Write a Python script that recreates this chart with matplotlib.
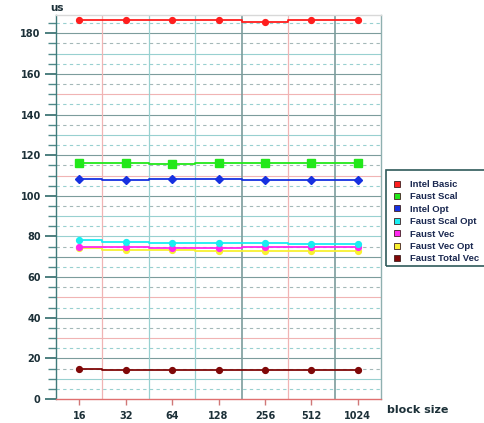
import matplotlib
matplotlib.use('Agg')
import matplotlib.pyplot as plt
from matplotlib.patches import Rectangle
from matplotlib.lines import Line2D

# данные
block_sizes = ['16', '32', '64', '128', '256', '512', '1024']
intel_basic = [186.5, 186.5, 186.5, 186.5, 185.8, 186.5, 186.5]
faust_scal = [116.4, 116.4, 115.9, 116.4, 116.1, 116.1, 116.1]
intel_opt = [108.5, 107.9, 108.5, 108.5, 107.7, 107.7, 107.7]
faust_scal_opt = [78.2, 77.5, 77.0, 77.0, 77.0, 76.5, 76.5]
faust_vec = [75.0, 75.0, 74.5, 74.5, 74.7, 74.7, 74.7]
faust_vec_opt = [74.2, 73.4, 73.2, 72.7, 72.6, 72.6, 72.6]
faust_total_vec = [14.6, 14.1, 14.1, 14.1, 14.1, 14.1, 14.1]

names = ['Intel Basic', 'Faust Scal', 'Intel Opt', 'Faust Scal Opt',
         'Faust Vec', 'Faust Vec Opt', 'Faust Total Vec']
series = [intel_basic, faust_scal, intel_opt, faust_scal_opt,
          faust_vec, faust_vec_opt, faust_total_vec]
colors = ['#ff1e1e', '#22e81a', '#1630e0', '#18eef2',
          '#ff28f0', '#f8f030', '#800808']
markers = ['o', 's', 'D', 'o', 'o', 'o', 'o']
msizes = [4.2, 6, 3.8, 4.2, 4.2, 4.2, 4.2]

TXT = '#1c3038'
PINK = '#f0b4b4'
TEAL = '#98d0d0'
DARK = '#7c9c9c'

fig = plt.figure(figsize=(4.84, 4.23), dpi=100)
ax = fig.add_axes([56 / 484, 1 - 399 / 423, 325 / 484, 384 / 423])

x = list(range(len(block_sizes)))
ax.set_xlim(-0.5, 6.5)
ax.set_ylim(0, 189)

# сетка по горизонтали
hcols = [PINK, TEAL, DARK, PINK, DARK, PINK, DARK, DARK, TEAL, TEAL,
         DARK, PINK, DARK, TEAL, DARK, PINK, DARK, TEAL, DARK]
for i, v in enumerate(range(10, 190, 10)):
    ax.axhline(v, color=hcols[i + 1], lw=0.8, zorder=1)
for i, v in enumerate(range(5, 190, 10)):
    ax.axhline(v, color=TEAL if i % 2 == 0 else '#a4b8b8', lw=0.8,
               ls=(0, (3, 3)), zorder=1)

# сетка по вертикали
vcols = [PINK, TEAL, TEAL, DARK, PINK, DARK]
for i, v in enumerate([0.5, 1.5, 2.5, 3.5, 4.5, 5.5]):
    ax.axvline(v, color=vcols[i], lw=0.9 if vcols[i] != DARK else 1.2, zorder=1)

for k in reversed(range(len(series))):
    ax.plot(x, series[k], color=colors[k], lw=1.3, drawstyle='steps-mid',
            marker=markers[k], markersize=msizes[k], zorder=3 + (6 - k))

for side in ['top', 'right', 'left', 'bottom']:
    ax.spines[side].set_linewidth(1.0)
ax.spines['left'].set_color('#3f7a7a')
ax.spines['right'].set_color('#8fb0b0')
ax.spines['top'].set_color('#d8d8d8')
ax.spines['bottom'].set_color('#e07070')

ax.set_xticks(x)
ax.set_xticklabels(block_sizes)
ax.set_yticks(range(0, 181, 20))
ax.set_yticks([v for v in range(5, 189, 5) if v % 20 != 0], minor=True)
ax.tick_params(axis='x', length=4.5, width=1.0, color='#d07878', pad=4,
               labelsize=7, labelcolor=TXT)
ax.tick_params(axis='y', which='major', length=8, width=1.2, color='#2f6a6a',
               pad=3, labelsize=7, labelcolor=TXT)
ax.tick_params(axis='y', which='minor', length=6, width=1.0, color='#4f8a8a')
for lab in ax.get_xticklabels() + ax.get_yticklabels():
    lab.set_fontweight('bold')

fig.text(50 / 484, 1 - 8 / 423, 'us', fontsize=7.5, fontweight='bold',
         color=TXT, va='center', ha='left')
fig.text(387 / 484, 1 - 410 / 423, 'block size', fontsize=8, fontweight='bold',
         color=TXT, va='center', ha='left')

# легенда
fig.add_artist(Rectangle((386 / 484, 1 - 266 / 423), 120 / 484, 96 / 423,
                         transform=fig.transFigure, fill=False,
                         edgecolor='#2f5a5a', lw=1.2, clip_on=False))
handles = [Line2D([], [], ls='none', marker='s', markersize=5,
                  markerfacecolor=c, markeredgecolor='#402020',
                  markeredgewidth=0.6) for c in colors]
leg = fig.legend(handles, names, loc='upper left',
                 bbox_to_anchor=(393 / 484, 1 - 180 / 423),
                 frameon=False, handlelength=0.8,
                 prop={'family': 'Liberation Sans', 'weight': 'bold', 'size': 6.8},
                 handletextpad=1.0, labelspacing=0.36, borderpad=0,
                 borderaxespad=0)
for t in leg.get_texts():
    t.set_color('#1a2850')

plt.savefig('out.png', dpi=100)
